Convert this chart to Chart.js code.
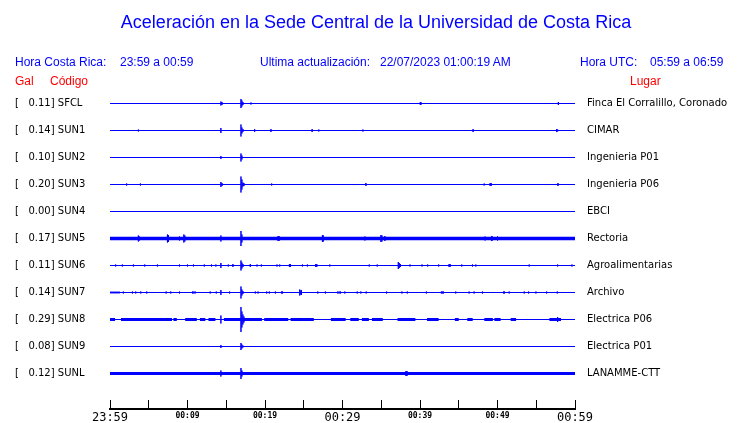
<!DOCTYPE html>
<html>
<head>
<meta charset="utf-8">
<script src="https://cdn.jsdelivr.net/npm/chart.js@4.4.1/dist/chart.umd.min.js"></script>
<style>
  body { margin: 0; background: #fff; }
  #wrap { position: relative; width: 740px; height: 423px; }
  #chart { position: absolute; left: 0; top: 0; }
  .t { position: absolute; font-family: "Liberation Sans", Arial, sans-serif; font-size: 12px; line-height: 1; white-space: pre; color: #0000ff; }
  .red { color: #ff0000; }
  #title { font-size: 18px; left: 376px; top: 13px; transform: translateX(-50%); }
</style>
</head>
<body>
<div id="wrap">
  <canvas id="chart" width="740" height="423"></canvas>
  <div class="t" id="title">Aceleración en la Sede Central de la Universidad de Costa Rica</div>
  <div class="t" style="left:15px;top:56px">Hora Costa Rica:</div>
  <div class="t" style="left:120px;top:56px">23:59 a 00:59</div>
  <div class="t" style="left:260px;top:56px">Ultima actualización:</div>
  <div class="t" style="left:380px;top:56px">22/07/2023 01:00:19 AM</div>
  <div class="t" style="left:580px;top:56px">Hora UTC:</div>
  <div class="t" style="left:650px;top:56px">05:59 a 06:59</div>
  <div class="t red" style="left:15px;top:75px">Gal</div>
  <div class="t red" style="left:50px;top:75px">Código</div>
  <div class="t red" style="left:630px;top:75px">Lugar</div>
</div>
<script>
/* global Chart */

// stations, top to bottom
const CODES = ["SFCL", "SUN1", "SUN2", "SUN3", "SUN4", "SUN5", "SUN6", "SUN7", "SUN8", "SUN9", "SUNL"];
const GAL = ["0.11", "0.14", "0.10", "0.20", "0.00", "0.17", "0.11", "0.14", "0.29", "0.08", "0.12"];
const PLACES = [
  "Finca El Corralillo, Coronado", "CIMAR", "Ingenieria P01", "Ingenieria P06", "EBCI",
  "Rectoria", "Agroalimentarias", "Archivo", "Electrica P06", "Electrica P01", "LANAMME-CTT",
];

// x axis: minutes after 23:59, labels every 10 min
const TICK_LABELS = ["23:59", "00:09", "00:19", "00:29", "00:39", "00:49", "00:59"];

// spikes: [minute, half amplitude in counts]
const SPIKES_SFCL = [[14.31, 2], [14.45, 1.5], [16.9, 4.5], [17.02, 3], [17.15, 1.5], [18.19, 1], [40.04, 1.5], [40.17, 1], [57.85, 1.5]];
const SPIKES_SUN1 = [[3.66, 1], [14.31, 2.5], [16.9, 6], [17.02, 3], [17.15, 1.5], [18.66, 1.5], [20.77, 1.5], [26.08, 1.5], [26.94, 1], [32.63, 1], [46.85, 1.5], [57.63, 1.5], [57.76, 1]];
const SPIKES_SUN2 = [[14.31, 1.5], [16.9, 4], [17.02, 2]];
const SPIKES_SUN3 = [[2.15, 1], [3.92, 1], [14.31, 2.5], [14.45, 1.5], [16.9, 8], [17.02, 5], [17.15, 2], [17.28, 1.5], [20.86, 1], [33.02, 1.5], [48.28, 1], [49.05, 1.5], [49.18, 1.5], [57.8, 1.5]];
const SPIKES_SUN4 = [];
const SPIKES_SUN5 = [[3.66, 3], [3.79, 2], [7.41, 4], [7.54, 3.5], [8.97, 2], [9.53, 4], [9.66, 3], [14.31, 3], [16.9, 7.5], [17.02, 4], [21.68, 2.5], [21.81, 2.5], [27.41, 3.5], [27.54, 3], [32.89, 2], [34.96, 3.5], [35.09, 3], [35.47, 2.5], [48.4, 2], [49.22, 2.5], [49.35, 2], [50.0, 2]];
const SPIKES_SUN6 = [[0.73, 1], [1.59, 1], [3.02, 1], [4.48, 1], [6.12, 1], [7.54, 0.5], [8.97, 1], [10.0, 1], [10.78, 1], [12.16, 1], [13.1, 1], [13.66, 1], [14.31, 2.5], [15.26, 1], [15.86, 1.5], [16.9, 5], [17.02, 3], [17.15, 1.5], [18.1, 1.5], [18.97, 1], [19.53, 1], [21.55, 1], [21.9, 1], [23.15, 1.5], [23.28, 1.5], [24.83, 1], [25.47, 1], [26.55, 1.5], [26.68, 1.5], [28.36, 1], [29.91, 0.5], [33.45, 1], [34.48, 1], [37.2, 3.5], [37.33, 2.5], [37.46, 1.5], [38.71, 1], [40.26, 1], [40.99, 1], [42.41, 1], [43.75, 1.5], [43.88, 1.5], [45.39, 1], [46.77, 1], [47.2, 1], [54.09, 1], [55.08, 0.5], [57.76, 1], [59.61, 1]];
const SPIKES_SUN7 = [[0.13, 1], [0.39, 1], [0.65, 1], [0.9, 1], [1.16, 1], [1.72, 1], [2.89, 1], [3.32, 1], [3.97, 1], [4.74, 1], [7.24, 1], [7.84, 1], [8.97, 1], [10.65, 1], [10.82, 1], [10.99, 1], [12.93, 1], [13.71, 1], [14.31, 2.5], [15.43, 1], [16.9, 6], [17.02, 3], [17.15, 1.5], [18.75, 1], [19.1, 1], [20.22, 1], [20.56, 1], [21.34, 1], [22.2, 1.5], [24.48, 3], [24.6, 2], [24.7, 2.5], [26.81, 1], [27.8, 1], [29.4, 1], [29.57, 1], [29.74, 1], [30.3, 1], [31.9, 1], [32.37, 1], [33.06, 1], [35.69, 1], [37.67, 1], [38.36, 1], [40.82, 1], [41.81, 0.5], [42.76, 1], [42.89, 1], [43.02, 1], [44.61, 1], [46.34, 1], [46.98, 1], [48.06, 1], [50.78, 1], [50.91, 1], [51.51, 1], [53.45, 1], [54.01, 1], [54.96, 1], [56.34, 1], [57.71, 1]];
const SPIKES_SUN8 = [[14.31, 4], [16.9, 12.5], [17.02, 8], [17.15, 5], [17.28, 3], [57.76, 2.5]];
const SPIKES_SUN9 = [[14.31, 1.5], [16.9, 3.5], [17.02, 2], [17.15, 1]];
const SPIKES_SUNL = [[14.31, 3], [16.9, 5.5], [17.02, 3], [38.19, 2.5], [38.32, 2.5]];
const SPIKES = [SPIKES_SFCL, SPIKES_SUN1, SPIKES_SUN2, SPIKES_SUN3, SPIKES_SUN4, SPIKES_SUN5, SPIKES_SUN6, SPIKES_SUN7, SPIKES_SUN8, SPIKES_SUN9, SPIKES_SUNL];

// background noise: [start minute, end minute] stretches and their half amplitude
const NOISE_SUN5 = [[0, 60]];
const NOISE_SUN8 = [[0, 0.65], [1.42, 8.0], [8.19, 8.62], [9.7, 11.2], [11.6, 12.3], [12.7, 13.6], [14.7, 19.6], [19.9, 23.0], [23.3, 26.3], [28.5, 30.4], [31.0, 32.1], [32.5, 33.4], [33.8, 35.2], [37.1, 39.4], [40.9, 42.4], [44.5, 45.0], [46.1, 46.8], [48.3, 49.4], [49.6, 50.4], [51.7, 52.4], [56.7, 58.2]];
const NOISE_SUNL = [[0, 60]];
const NOISE = { 5: NOISE_SUN5, 8: NOISE_SUN8, 10: NOISE_SUNL };
const NOISE_LEVEL = { 5: 1.7, 8: 1.6, 10: 1.5 };

const BLUE = "#0000ff";
const ROW_COUNTS = 27; // counts between two traces
const TOP = 90;
const BOTTOM = 409;

function traceData(row) {
  const pts = [{ x: 0, y: row }];
  for (const [t, a] of SPIKES[row]) {
    const d = a / ROW_COUNTS;
    pts.push({ x: t, y: row }, { x: t, y: row - d }, { x: t, y: row + d }, { x: t, y: row });
  }
  pts.push({ x: 60, y: row });
  return pts;
}

function noiseData(row) {
  const pts = [];
  for (const [a, b] of NOISE[row]) {
    pts.push({ x: a, y: row }, { x: b, y: row }, { x: b, y: null });
  }
  return pts;
}

const datasets = [];
CODES.forEach((code, i) => {
  if (NOISE[i]) {
    datasets.push({
      label: code + " ruido",
      data: noiseData(i),
      borderColor: BLUE,
      borderWidth: 2 * NOISE_LEVEL[i],
      pointRadius: 0,
      spanGaps: false,
    });
  }
  datasets.push({
    label: code,
    data: traceData(i),
    borderColor: BLUE,
    borderWidth: 1,
    pointRadius: 0,
  });
});

const rowTicks = (scale) => {
  scale.ticks = CODES.map((_, i) => ({ value: i }));
};

new Chart(document.getElementById("chart"), {
  type: "line",
  data: { datasets },
  options: {
    responsive: false,
    animation: false,
    devicePixelRatio: 1,
    events: [],
    layout: { padding: { left: 15, right: 0, top: TOP, bottom: 0 } },
    plugins: { legend: { display: false }, tooltip: { enabled: false } },
    elements: { line: { tension: 0 } },
    scales: {
      x: {
        type: "linear",
        min: 0,
        max: 60,
        grid: { drawOnChartArea: false, tickLength: -9, color: "#000", lineWidth: 1 },
        border: { display: true, color: "#000", width: 2 },
        ticks: {
          stepSize: 5,
          autoSkip: false,
          maxRotation: 0,
          padding: 11,
          color: "#000",
          font: (c) => (c.tick && c.tick.value % 30 === 0
            ? { family: "DejaVu Sans Mono", size: 12 }
            : { family: "DejaVu Sans Mono", size: 8, weight: "bold" }),
          callback: (v) => (v % 10 === 0 ? TICK_LABELS[v / 10] : ""),
        },
        afterFit: (s) => { s.height = 423 - BOTTOM; },
      },
      y: {
        type: "linear",
        position: "left",
        reverse: true,
        min: -0.5,
        max: -0.5 + (BOTTOM - TOP) / ROW_COUNTS,
        grid: { display: false, drawTicks: false },
        border: { display: false },
        afterBuildTicks: rowTicks,
        ticks: {
          crossAlign: "far",
          padding: 0,
          color: "#000",
          font: { family: "DejaVu Sans", size: 10 },
          callback: (v) => `[   ${GAL[v]}] ${CODES[v]}`,
        },
        afterFit: (s) => { s.width = 95; },
      },
      y2: {
        type: "linear",
        position: "right",
        reverse: true,
        min: -0.5,
        max: -0.5 + (BOTTOM - TOP) / ROW_COUNTS,
        grid: { display: false, drawTicks: true, tickLength: 12 },
        border: { display: false },
        afterBuildTicks: rowTicks,
        ticks: {
          padding: 0,
          color: "#000",
          font: { family: "DejaVu Sans", size: 10 },
          callback: (v) => PLACES[v],
        },
        afterFit: (s) => { s.width = 165; },
      },
    },
  },
});
</script>
</body>
</html>
